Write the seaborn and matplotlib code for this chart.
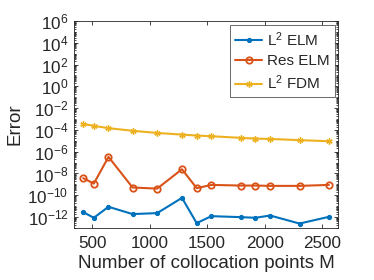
import numpy as np
import pandas as pd
import matplotlib
matplotlib.use("Agg")
import matplotlib.pyplot as plt
import matplotlib.ticker as mticker
import seaborn as sns

M = [420, 512, 640, 850, 1064, 1280, 1408, 1536, 1792, 1920, 2048, 2304, 2560]
l2_elm_log = [-11.55, -12.07, -11.06, -11.73, -11.64, -10.24, -12.56, -11.92, -12.01, -12.07, -11.86, -12.60, -11.98]
res_elm_log = [-8.43, -8.93, -6.48, -9.29, -9.39, -7.61, -9.35, -9.05, -9.11, -9.11, -9.14, -9.14, -9.05]
l2_fdm_log = [-3.45, -3.63, -3.84, -4.08, -4.28, -4.43, -4.52, -4.58, -4.73, -4.80, -4.83, -4.94, -5.04]
series_names = ["L$^2$ ELM", "Res ELM", "L$^2$ FDM"]
colors = ["#0072BD", "#D95319", "#EDB120"]

sns.set_style("ticks")
plt.rcParams["font.family"] = ["Liberation Sans", "DejaVu Sans"]
plt.rcParams["mathtext.fontset"] = "custom"
plt.rcParams["mathtext.rm"] = "Liberation Sans"
plt.rcParams["mathtext.it"] = "Liberation Sans:italic"
plt.rcParams["mathtext.default"] = "regular"

rows = []
for name, vals in zip(series_names, [l2_elm_log, res_elm_log, l2_fdm_log]):
    for m, v in zip(M, vals):
        rows.append({"M": m, "Error": 10.0 ** v, "series": name})
df = pd.DataFrame(rows)

fig = plt.figure(figsize=(3.74, 2.80), dpi=100)
ax = fig.add_axes([0.198, 0.186, 0.707, 0.739])

styles = {
    "L$^2$ ELM": dict(marker="o", markersize=3.0, markerfacecolor=colors[0], markeredgecolor=colors[0]),
    "Res ELM": dict(marker="o", markersize=4.6, markerfacecolor="none", markeredgecolor=colors[1], markeredgewidth=1.3),
    "L$^2$ FDM": dict(marker=(6, 2, 0), markersize=4.5, markeredgecolor=colors[2], markeredgewidth=1.0),
}
for name, c in zip(series_names, colors):
    sub = df[df["series"] == name]
    sns.lineplot(data=sub, x="M", y="Error", ax=ax, color=c, linewidth=1.5,
                 label=name, **styles[name])

ax.set_yscale("log")
ax.set_xlim(340, 2643)
ax.set_ylim(1e-13, 1e6)
ax.set_xticks([500, 1000, 1500, 2000, 2500])
ax.yaxis.set_major_locator(mticker.FixedLocator([10.0 ** k for k in range(-12, 7, 2)]))
ax.yaxis.set_major_formatter(mticker.LogFormatterSciNotation())
ax.yaxis.set_minor_locator(mticker.LogLocator(base=10, subs=np.arange(1, 10), numticks=100))
ax.yaxis.set_minor_formatter(mticker.NullFormatter())

tc = "#262626"
ax.tick_params(axis="both", which="both", direction="in", top=True, right=True,
               colors=tc, labelcolor=tc, labelsize=12.3, width=0.6)
ax.tick_params(which="major", length=3)
ax.tick_params(which="minor", length=1.5)
ax.tick_params(axis="x", which="major", pad=5.5)
ax.tick_params(axis="y", which="major", pad=4)
for s in ax.spines.values():
    s.set_color(tc)
    s.set_linewidth(0.6)

ax.set_xlabel("Number of collocation points M", fontsize=13.5, color=tc, labelpad=3.5)
ax.set_ylabel("Error", fontsize=13.5, color=tc, labelpad=3)

leg = ax.legend(loc="upper right", fontsize=11, frameon=True, fancybox=False,
                edgecolor=tc, handlelength=1.75, handletextpad=0.3, borderpad=0.35,
                labelspacing=0.35, borderaxespad=0.25)
leg.get_frame().set_linewidth(0.6)

fig.savefig("out.png", dpi=100)
